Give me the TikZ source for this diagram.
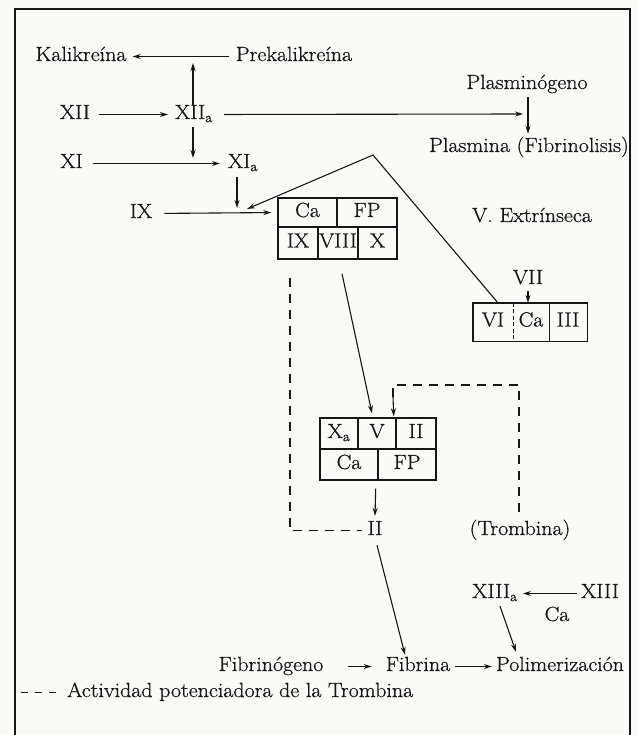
\documentclass[tikz,border=0pt]{standalone}
\usepackage{fontspec}
\usetikzlibrary{arrows.meta,calc}
\newfontfamily\diagfont{Latin Modern Roman}[FakeBold=0.7,FakeStretch=1.07]
\definecolor{ink}{HTML}{161616}
\definecolor{paper}{HTML}{FBFAF7}
\begin{document}
\begin{tikzpicture}[x=1pt,y=-1pt,
  font=\diagfont\fontsize{20.5}{24}\selectfont,
  txt/.style={anchor=base,inner sep=0pt,text height=13pt,text depth=4pt,text=ink},
  cell/.style={draw=ink,line width=1.4pt,inner sep=0pt,text height=13pt,text depth=4pt,text=ink},
  cellnd/.style={inner sep=0pt,text height=13pt,text depth=4pt,text=ink},
  boxline/.style={draw=ink,line width=1.4pt},
  arr/.style={draw=ink,line width=1.1pt,-{Stealth[length=8pt,width=5pt]}},
  ln/.style={draw=ink,line width=1.1pt},
  dsh/.style={draw=ink,line width=1.4pt,dash pattern=on 9pt off 7pt},
]
\useasboundingbox (0,0) rectangle (638,735);
\clip (0,0) rectangle (638,735);
\fill[paper] (0,0) rectangle (638,735);
% outer frame
\draw[ink,line width=1.6pt] (15,745) -- (15,9) -- (630,9) -- (630,745);

% --- intrinsic pathway labels
\node[txt] (kal) at (81,61) {Kalikreína};
\node[txt] (pre) at (294,61) {Prekalikreína};
\node[txt] (xii) at (75,119) {XII};
\node[txt] (xiia) at (194,119) {XII\textsubscript{a}};
\node[txt] (xi) at (71.5,168) {XI};
\node[txt] (xia) at (243,168) {XI\textsubscript{a}};
\node[txt] (ix) at (141,218) {IX};
\node[txt] (plg) at (527,89) {Plasminógeno};
\node[txt] (plm) at (529,152) {Plasmina (Fibrinolisis)};
\node[txt] (vext) at (532,222) {V. Extrínseca};
\node[txt] (vii) at (528,284) {VII};

\coordinate (kk) at (193,63);
\coordinate (xx) at (193,158);
\coordinate (pp) at (523,114);
\coordinate (j1) at (237,208);
\coordinate (j2) at (247,209);
\coordinate (apex) at (373,155);

% --- complex IX / VIII / X
\node[cell,minimum width=59pt,minimum height=29pt] (ca1) at (307.5,212.5) {Ca};
\node[cell,minimum width=60pt,minimum height=29pt] (fp1) at (367,212.5) {FP};
\node[cell,minimum width=40pt,minimum height=32pt] (ix1) at (298,243) {IX};
\node[cell,minimum width=40pt,minimum height=32pt] (viii1) at (338,243) {VIII};
\node[cell,minimum width=39pt,minimum height=32pt] (x1) at (377.5,243) {X};

% --- extrinsic complex VI / Ca / III
\node[cellnd,minimum width=40pt,minimum height=38pt] (vi) at (493,322) {VI};
\node[cellnd,minimum width=36pt,minimum height=38pt] (ca2) at (531,322) {Ca};
\node[cellnd,minimum width=38pt,minimum height=38pt] (iii) at (568,322) {III};
\draw[boxline] (vi.north west) rectangle (iii.south east);
\draw[boxline] (ca2.north east) -- (ca2.south east);
\draw[draw=ink,line width=1.2pt,dash pattern=on 4pt off 2.5pt] (vi.north east) -- (vi.south east);

% --- prothrombinase complex
\node[cell,minimum width=38pt,minimum height=31pt] (xa3) at (339,433.5) {X\textsubscript{a}};
\node[cell,minimum width=38pt,minimum height=31pt] (v3) at (377,433.5) {V};
\node[cell,minimum width=40pt,minimum height=31pt] (ii3) at (416,433.5) {II};
\node[cell,minimum width=58pt,minimum height=31pt] (ca3) at (349,464.5) {Ca};
\node[cell,minimum width=58pt,minimum height=31pt] (fp3) at (407,464.5) {FP};

\node[txt] (ii) at (375,535) {II};
\node[txt] (trom) at (520,535) {(Trombina)};
\node[txt] (xiiia) at (495,598) {XIII\textsubscript{a}};
\node[txt] (xiii) at (600,598) {XIII};
\node[txt] (ca4) at (557,621) {Ca};
\node[txt] (fbg) at (271,671) {Fibrinógeno};
\node[txt] (fib) at (418,671) {Fibrina};
\node[txt] (pol) at (560,671) {Polimerización};
\node[txt,anchor=base west] (leg) at (67,697) {Actividad potenciadora de la Trombina};

% --- connectors
\draw[arr,shorten <=7pt,shorten >=6pt] (pre.west) -- (kal.east);
\draw[arr] ($(xiia.north)+(-1,-1)$) -- (kk);
\draw[arr,shorten <=9pt,shorten >=7pt] (xii.east) -- (xiia.west);
\draw[arr] ($(xiia.south)+(-1,4)$) -- (xx);
\draw[arr,shorten <=11pt] (xiia.east) -- (pp);
\draw[arr,shorten <=4pt,shorten >=5pt] ([xshift=1pt]plg.south) -- ([xshift=-1pt]plm.north);
\draw[arr,shorten <=10pt,shorten >=8pt] (xi.east) -- (xia.west);
\draw[arr] ($(xia.south)+(-6,5)$) -- (j1);
\draw[arr,shorten <=12pt,shorten >=6pt] (ix.east) -- (ca1.west);
\draw[ln,-{Stealth[length=8pt,width=5pt]}] ([xshift=4pt,yshift=1pt]vi.north) -- (apex) -- (j2);
\draw[arr,shorten <=3pt] (vii.south) -- (vii.south |- ca2.north);

\draw[arr] ($(viii1.south)+(4,14)$) -- ($(v3.north)+(-5,-4)$);
\draw[dsh] ($(ix1.south)+(-8,18)$) |- ($(ii.west)+(-5,0)$);
\coordinate (tc) at (393,385);
\draw[dsh] ($(trom.north)+(-1,-10)$) |- (tc) -- ++(0,12);
\draw[arr] ($(tc)+(0,12)$) -- ([xshift=-3pt,yshift=1pt]v3.north east);
\draw[arr] ($(ca3.south east)+(-3,8)$) -- ($(ii.north)+(0,-6)$);
\draw[arr] ($(ii.south)+(2,6)$) -- ($(fib.north)+(-13,-3)$);
\draw[arr,shorten <=4pt,shorten >=5pt] (xiii.west) -- (xiiia.east);
\draw[arr] ($(xiiia.south)+(5,4)$) -- ($(pol.north)+(-44,-6)$);
\draw[arr,shorten <=24pt,shorten >=14pt] (fbg.east) -- (fib.west);
\draw[arr,shorten <=5pt,shorten >=4pt] (fib.east) -- (pol.west);

% legend sample
\draw[dsh,dash pattern=on 7pt off 7pt] ([xshift=-46pt]leg.west) -- ([xshift=-10pt]leg.west);
\end{tikzpicture}
\end{document}
